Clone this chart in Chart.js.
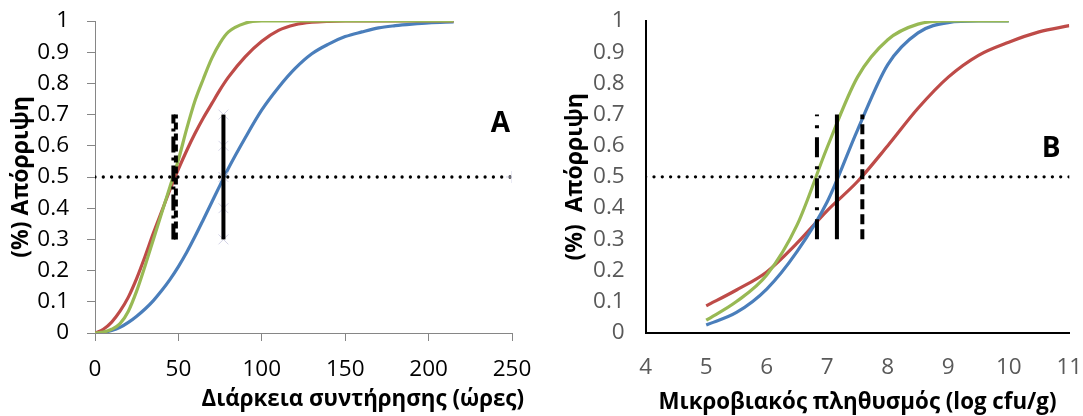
<!DOCTYPE html>
<html>
<head>
<meta charset="utf-8">
<script src="https://cdn.jsdelivr.net/npm/chart.js@4"></script>
<style>
  html, body { margin: 0; padding: 0; background: #fff; }
  #wrap { position: relative; width: 1083px; height: 416px; overflow: hidden; }
  #chartA { position: absolute; left: 0; top: 0; }
  #chartB { position: absolute; left: 540px; top: 0; }
</style>
</head>
<body>
<div id="wrap">
  <canvas id="chartA" width="540" height="416"></canvas>
  <canvas id="chartB" width="543" height="416"></canvas>
</div>
<script>
// panel A - rejection vs storage time (hours)
const aHours = [0, 5, 10, 15, 20, 25, 30, 35, 40, 45, 50, 55, 60, 65, 70, 75, 80, 90, 100, 110, 120, 130, 140, 150, 160, 170, 180, 190, 200, 215];
const aBlue  = [0, 0.002, 0.008, 0.018, 0.034, 0.054, 0.077, 0.104, 0.136, 0.172, 0.213, 0.259, 0.31, 0.364, 0.419, 0.474, 0.528, 0.625, 0.715, 0.787, 0.848, 0.895, 0.926, 0.95, 0.965, 0.978, 0.985, 0.99, 0.994, 0.997];
const aRed   = [0, 0.012, 0.035, 0.07, 0.115, 0.175, 0.245, 0.32, 0.39, 0.46, 0.525, 0.585, 0.64, 0.69, 0.735, 0.78, 0.82, 0.885, 0.935, 0.97, 0.988, 0.996, 0.999, 1, 1, 1, 1, 1, 1, 1];
const aGreen = [0, 0.003, 0.012, 0.03, 0.07, 0.135, 0.215, 0.3, 0.385, 0.47, 0.555, 0.655, 0.745, 0.815, 0.88, 0.93, 0.965, 0.993, 1, 1, 1, 1, 1, 1, 1, 1, 1, 1, 1, 1];
const aCutX  = [47, 48.5, 77];           // dash-dot, dashed, solid
const aTicksX = [0, 250];

// panel B - rejection vs microbial load (log cfu/g)
const bLog   = [5, 5.5, 6, 6.5, 7, 7.5, 8, 8.5, 9, 9.5, 10, 10.5, 11];
const bBlue  = [0.025, 0.065, 0.14, 0.26, 0.42, 0.65, 0.86, 0.962, 0.995, 1, 1, null, null];
const bRed   = [0.086, 0.137, 0.195, 0.287, 0.392, 0.485, 0.6, 0.72, 0.82, 0.89, 0.932, 0.965, 0.985];
const bGreen = [0.04, 0.1, 0.185, 0.345, 0.595, 0.82, 0.94, 0.99, 1, 1, 1, null, null];
const bCutX  = [6.83, 7.16, 7.58];       // dash-dot, solid, dashed
const bTicksX = [4, 11];

const cutY = [0.3, 0.7];
const halfY = 0.5;

const FONT = '"Open Sans", "DejaVu Sans", sans-serif';
const BLUE = '#4A7EBB', RED = '#BE4B48', GREEN = '#98B954';

const pts = (xs, ys) => xs.map((x, i) => ({x: x, y: ys[i]}));
const fmt = v => String(Math.round(v * 10) / 10);

// keep the plot area where the layout padding puts it
const noPad = s => { s.paddingLeft = 0; s.paddingRight = 0; s.paddingTop = 0; s.paddingBottom = 0; };

const curve = (xs, ys, color) => ({
  data: pts(xs, ys),
  borderColor: color,
  borderWidth: 3.2,
  pointRadius: 0,
  cubicInterpolationMode: 'monotone',
  spanGaps: false
});

const vline = (x, dash) => ({
  data: [{x: x, y: cutY[0]}, {x: x, y: cutY[1]}],
  borderColor: '#000',
  borderWidth: 4,
  borderDash: dash,
  borderCapStyle: 'butt',
  pointRadius: 0
});

const hline = (x0, x1) => ({
  data: [{x: x0, y: halfY}, {x: x1, y: halfY}],
  borderColor: '#000',
  borderWidth: 3.3,
  borderDash: [0, 8.3],
  borderCapStyle: 'round',
  pointRadius: 0
});

// big panel letter (A / B) and, for A, the x caption that runs past the axis end
const panelText = {
  id: 'panelText',
  afterDraw(chart, args, opts) {
    const {ctx, scales, chartArea} = chart;
    ctx.save();
    ctx.fillStyle = '#000';
    ctx.textBaseline = 'middle';
    ctx.font = 'bold 28px ' + FONT;
    ctx.textAlign = 'center';
    ctx.fillText(opts.letter, scales.x.getPixelForValue(opts.x), scales.y.getPixelForValue(opts.y));
    if (opts.caption) {
      ctx.font = 'bold 22.3px ' + FONT;
      ctx.textAlign = 'right';
      ctx.fillText(opts.caption, chartArea.right + 12, chart.height - 16);
    }
    ctx.restore();
  }
};

const yTitle = (text, pad) => ({
  display: true, text: text, color: '#000',
  font: {family: FONT, size: 23, weight: 'bold'},
  padding: {top: pad, bottom: 0}
});

const tickFont = {family: FONT, size: 22.5};

// ---------- chart A ----------
new Chart(document.getElementById('chartA'), {
  type: 'scatter',
  data: {
    datasets: [
      vline(aCutX[2], []),
      vline(aCutX[0], [16, 5, 3, 5]),
      vline(aCutX[1], [7, 4]),
      {
        data: [0.3, 0.4, 0.5, 0.6, 0.7].map(v => ({x: aCutX[2], y: v})),
        showLine: false, pointStyle: 'crossRot', pointRadius: 7,
        borderColor: '#D3D3E6', borderWidth: 1
      },
      {
        data: [{x: aTicksX[1], y: halfY}],
        showLine: false, pointStyle: 'cross', pointRadius: 6,
        borderColor: '#D3D3E6', borderWidth: 1
      },
      hline(aTicksX[0], aTicksX[1]),
      curve(aHours, aGreen, GREEN),
      curve(aHours, aRed, RED),
      curve(aHours, aBlue, BLUE)
    ].map(d => Object.assign({showLine: d.showLine !== false}, d))
  },
  options: {
    responsive: false,
    animation: false,
    events: [],
    layout: {padding: {top: 21, right: 28, left: 0, bottom: 0}},
    plugins: {
      legend: {display: false},
      tooltip: {enabled: false},
      panelText: {letter: 'A', x: 243, y: 0.67, caption: 'Διάρκεια συντήρησης (ώρες)'}
    },
    scales: {
      x: {
        type: 'linear', min: aTicksX[0], max: aTicksX[1],
        ticks: {stepSize: 50, color: '#000', font: tickFont, padding: 15, maxRotation: 0},
        grid: {drawOnChartArea: false, color: '#868686', tickLength: 8},
        border: {color: '#868686', width: 1},
        afterFit: s => { noPad(s); s.height = 83; }
      },
      y: {
        type: 'linear', min: 0, max: 1,
        ticks: {stepSize: 0.1, autoSkip: false, color: '#000', font: tickFont, padding: 18, callback: fmt},
        grid: {drawOnChartArea: false, color: '#868686', tickLength: 8},
        border: {color: '#868686', width: 1},
        title: yTitle('(%) Απόρριψη', 8),
        afterFit: s => { noPad(s); s.width = 95; }
      }
    }
  },
  plugins: [panelText]
});

// ---------- chart B ----------
new Chart(document.getElementById('chartB'), {
  type: 'scatter',
  data: {
    datasets: [
      vline(bCutX[1], []),
      vline(bCutX[0], [20, 9, 3, 9]),
      vline(bCutX[2], [10, 5]),
      hline(bTicksX[0], bTicksX[1]),
      curve(bLog, bGreen, GREEN),
      curve(bLog, bBlue, BLUE),
      curve(bLog, bRed, RED)
    ].map(d => Object.assign({showLine: true}, d))
  },
  options: {
    responsive: false,
    animation: false,
    events: [],
    layout: {padding: {top: 21, right: 13.7, left: 0, bottom: 0}},
    plugins: {
      legend: {display: false},
      tooltip: {enabled: false},
      panelText: {letter: 'B', x: 10.7, y: 0.59}
    },
    scales: {
      x: {
        type: 'linear', min: bTicksX[0], max: bTicksX[1],
        ticks: {stepSize: 1, color: '#595959', font: tickFont, padding: 21, maxRotation: 0},
        grid: {drawOnChartArea: false, drawTicks: false},
        border: {color: '#000', width: 2},
        title: {
          display: true, text: 'Μικροβιακός πληθυσμός (log cfu/g)', color: '#000',
          font: {family: FONT, size: 22.3, weight: 'bold'}, padding: {top: 0, bottom: 0}
        },
        afterFit: s => { noPad(s); s.height = 83.3; }
      },
      y: {
        type: 'linear', min: 0, max: 1,
        ticks: {stepSize: 0.1, autoSkip: false, color: '#595959', font: tickFont, padding: 21, callback: fmt},
        grid: {drawOnChartArea: false, drawTicks: false},
        border: {color: '#000', width: 2},
        title: yTitle('(%)  Απόρριψη', 22),
        afterFit: s => { noPad(s); s.width = 105.7; }
      }
    }
  },
  plugins: [panelText]
});
</script>
</body>
</html>
